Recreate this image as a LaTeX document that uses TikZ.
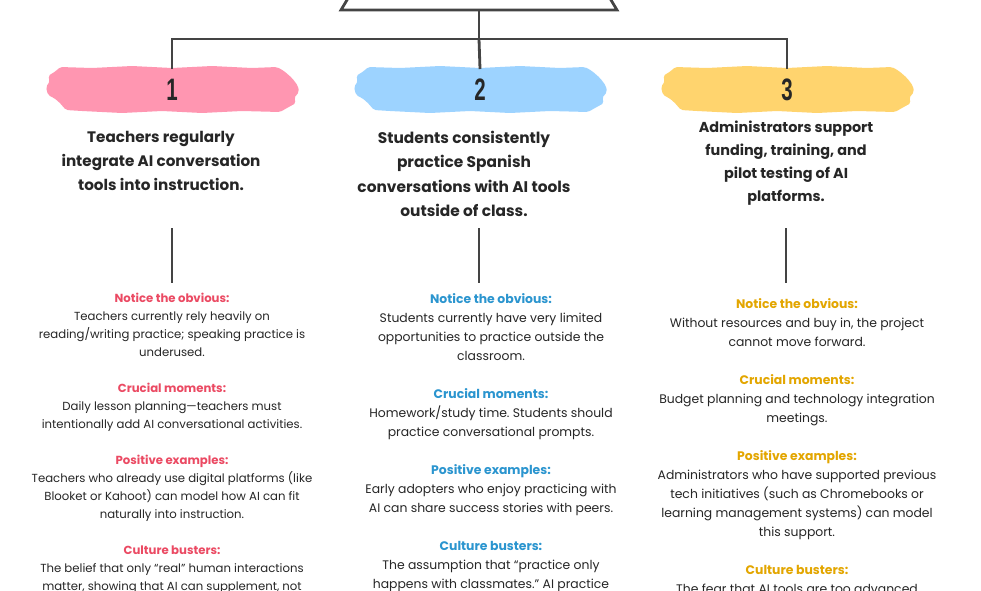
\documentclass[tikz,border=0pt]{standalone}
\usepackage{fontspec}
\setmainfont{Poppins}
\newfontfamily\numfont{Liberation Sans}
\frenchspacing
\usetikzlibrary{positioning, calc}
\definecolor{linegray}{HTML}{444444}
\definecolor{inkdark}{HTML}{262626}
\definecolor{brushpink}{HTML}{FF96B1}
\definecolor{brushblue}{HTML}{9DD3FF}
\definecolor{brushyellow}{HTML}{FFD46E}
\definecolor{headpink}{HTML}{EB4A63}
\definecolor{headblue}{HTML}{2B95CF}
\definecolor{headgold}{HTML}{E3A600}
\newcommand{\stepnum}[1]{\scalebox{0.66}[1]{\numfont\bfseries #1}}
\newcommand{\sect}[2]{\textcolor{#1}{\bfseries #2}}

\tikzset{
  brush/.pic={
    \fill[pic actions, rounded corners=2pt] (-112,-23) -- (-80,-22) -- (-40,-24) -- (0,-22) -- (40,-24) -- (80,-22)
      -- (105,-23) -- (112,-19) -- (120,-12) -- (126,-4) -- (127,2) -- (122,8) -- (124,13) -- (115,18)
      -- (108,22) -- (70,21) -- (30,23) -- (-10,21) -- (-50,23) -- (-90,21) -- (-106,20) -- (-113,12)
      -- (-118,8) -- (-124,5) -- (-126,-3) -- (-122,-9) -- (-124,-14) -- (-116,-19) -- cycle;
    \coordinate (-top) at (0,-21);
    \coordinate (-mid) at (0,0);
  }
}

\begin{document}
\begin{tikzpicture}[
    x=1pt, y=-1pt,
    conn/.style={draw=linegray, line width=2.8pt},
    num/.style={font=\fontsize{31}{31}\selectfont, text=inkdark, inner sep=0pt},
    title/.style={text=inkdark, align=center, inner sep=0pt},
    body/.style={text=inkdark, align=center, inner sep=0pt, anchor=north}
  ]
  \fill[white] (0,0) rectangle (981,590);
  \useasboundingbox (0,0) rectangle (981,590);

  % goal shape at the top, cut by the page
  \draw[conn] (359,-20) -- (341,10) -- (617,10) -- (599,-20);
  \coordinate (goal) at (479,10);
  \coordinate (split) at (479,39);

  % brush strokes with numbers
  \pic[fill=brushpink] (b1) at (172,90) {brush};
  \pic[fill=brushblue] (b2) at (480,90) {brush};
  \pic[fill=brushyellow] (b3) at (787,90) {brush};
  \node[num] (n1) at (b1-mid) {\stepnum{1}};
  \node[num] (n2) at (b2-mid) {\stepnum{2}};
  \node[num] (n3) at (b3-mid) {\stepnum{3}};

  \draw[conn] (goal) -- (split);
  \draw[conn] (split) -| (b1-top);
  \draw[conn] (split) -- (b2-top);
  \draw[conn] (split) -| (b3-top);

  % outcomes
  \node[title, font=\bfseries\fontsize{15.2}{24}\selectfont] (t1) at (161,161) {Teachers regularly\\integrate AI conversation\\tools into instruction.};
  \node[title, font=\bfseries\fontsize{15.4}{24.5}\selectfont] (t2) at (464,174) {Students consistently\\practice Spanish\\conversations with AI tools\\outside of class.};
  \node[title, font=\bfseries\fontsize{14.4}{23.2}\selectfont] (t3) at (786,163) {Administrators support\\funding, training, and\\pilot testing of AI\\platforms.};

  % stems
  \coordinate (s1) at (172,228);
  \coordinate (e1) at (172,283);
  \coordinate (s2) at (479,228);
  \coordinate (e2) at (479,283);
  \coordinate (s3) at (786,228);
  \coordinate (e3) at (786,283);
  \draw[conn] (s1) -- (e1);
  \draw[conn] (s2) -- (e2);
  \draw[conn] (s3) -- (e3);

  % details per column
  \node[body, font=\fontsize{11.7}{18}\selectfont] (d1) at (172,293) {%
    \sect{headpink}{Notice the obvious:}\\
    Teachers currently rely heavily on\\
    reading/writing practice; speaking practice is\\
    underused.\\[18pt]
    \sect{headpink}{Crucial moments:}\\
    Daily lesson planning—teachers must\\
    intentionally add AI conversational activities.\\[18pt]
    \sect{headpink}{Positive examples:}\\
    Teachers who already use digital platforms (like\\
    Blooket or Kahoot) can model how AI can fit\\
    naturally into instruction.\\[18pt]
    \sect{headpink}{Culture busters:}\\
    The belief that only “real” human interactions\\
    matter, showing that AI can supplement, not};
  \node[body, font=\fontsize{12.4}{19}\selectfont] (d2) at (491,293) {%
    \sect{headblue}{Notice the obvious:}\\
    Students currently have very limited\\
    opportunities to practice outside the\\
    classroom.\\[19pt]
    \sect{headblue}{Crucial moments:}\\
    Homework/study time. Students should\\
    practice conversational prompts.\\[19pt]
    \sect{headblue}{Positive examples:}\\
    Early adopters who enjoy practicing with\\
    AI can share success stories with peers.\\[19pt]
    \sect{headblue}{Culture busters:}\\
    The assumption that “practice only\\
    happens with classmates.” AI practice};
  \node[body, font=\fontsize{12.4}{19}\selectfont] (d3) at (797,298) {%
    \sect{headgold}{Notice the obvious:}\\
    Without resources and buy in, the project\\
    cannot move forward.\\[19pt]
    \sect{headgold}{Crucial moments:}\\
    Budget planning and technology integration\\
    meetings.\\[19pt]
    \sect{headgold}{Positive examples:}\\
    Administrators who have supported previous\\
    tech initiatives (such as Chromebooks or\\
    learning management systems) can model\\
    this support.\\[19pt]
    \sect{headgold}{Culture busters:}\\
    The fear that AI tools are too advanced};
\end{tikzpicture}
\end{document}
